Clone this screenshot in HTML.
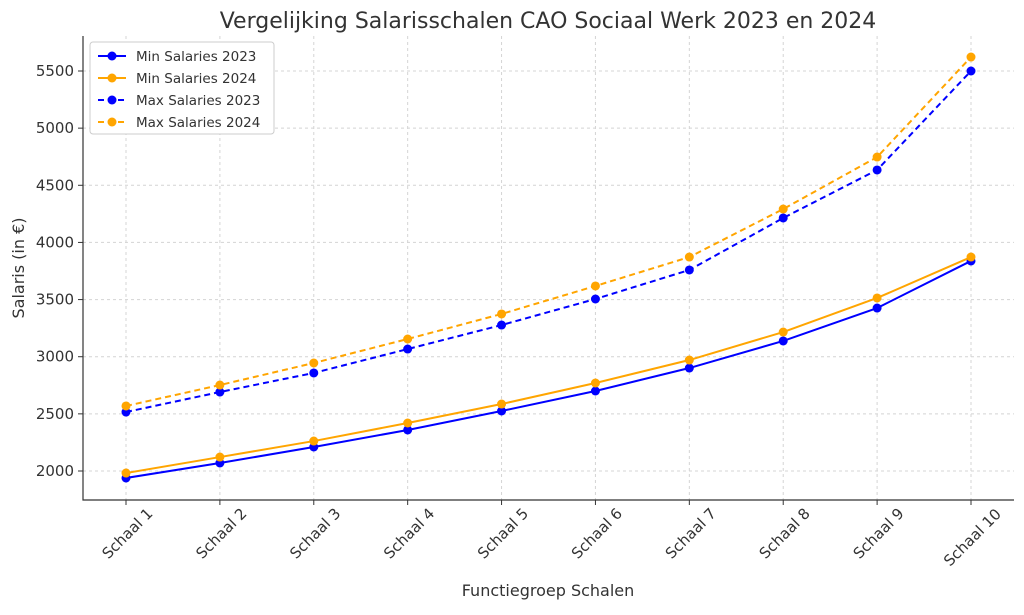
<!DOCTYPE html>
<html><head><meta charset="utf-8"><style>
body{margin:0;background:#fff;font-family:"Liberation Sans","DejaVu Sans",sans-serif}
svg text{font-family:"DejaVu Sans","Liberation Sans",sans-serif;fill:#333}
</style></head><body>
<svg id="chart" width="1024" height="610" xmlns="http://www.w3.org/2000/svg">
<text x="548" y="28" font-size="22" text-anchor="middle">Vergelijking Salarisschalen CAO Sociaal Werk 2023 en 2024</text>
<g id="grid"></g><g id="axes"></g><g id="series"></g>
<text x="548" y="596" font-size="16" text-anchor="middle">Functiegroep Schalen</text>
<text transform="translate(24,268) rotate(-90)" font-size="16" text-anchor="middle">Salaris (in €)</text>
<g id="legend"></g>
</svg>
<script>
const categories=["Schaal 1","Schaal 2","Schaal 3","Schaal 4","Schaal 5","Schaal 6","Schaal 7","Schaal 8","Schaal 9","Schaal 10"];
const min2023=[1939,2070,2210,2359,2525,2700,2901,3138,3426,3838];
const min2024=[1982,2122,2262,2420,2586,2770,2971,3216,3514,3872];
const max2023=[2516,2691,2858,3067,3277,3505,3759,4214,4634,5500];
const max2024=[2569,2752,2945,3155,3374,3619,3872,4292,4747,5622];
const yTicks=[2000,2500,3000,3500,4000,4500,5000,5500];
const NS="http://www.w3.org/2000/svg";
const L=83,R=1014,T=36,B=500;
const x=i=>126+i*(971-126)/(categories.length-1);
const y=v=>471-(v-2000)*400/3500;
function mk(tag,attrs,parent){const e=document.createElementNS(NS,tag);for(const k in attrs)e.setAttribute(k,attrs[k]);document.getElementById(parent).appendChild(e);return e;}
yTicks.forEach(v=>{
 const g=mk('line',{x1:L,x2:R,y1:y(v),y2:y(v),stroke:'#d4d4d4','stroke-dasharray':'3,3'},'grid');
 
 
 mk('line',{x1:L-5,x2:L,y1:y(v),y2:y(v),stroke:'#333'},'axes');
 const t=mk('text',{x:L-9,y:y(v)+5,'font-size':15,'text-anchor':'end'},'axes');t.textContent=v;
 
 
});
categories.forEach((c,i)=>{
 const g=mk('line',{x1:x(i),x2:x(i),y1:T,y2:B,stroke:'#d4d4d4','stroke-dasharray':'3,3'},'grid');
 
 
 mk('line',{x1:x(i),x2:x(i),y1:B,y2:B+5,stroke:'#333'},'axes');
 const len=c.length;
 const t=mk('text',{'font-size':15,'text-anchor':'middle',transform:`translate(${x(i)+5},${B+37+(len>8?4:0)}) rotate(-45)`},'axes');t.textContent=c;
 
 
});
const ax=mk('path',{d:`M${L},${T}V${B}H${R}`,fill:'none',stroke:'#333','stroke-width':1.2},'axes');


const series=[["min-2023",min2023,"#0000ff",""],["min-2024",min2024,"#ffa500",""],["max-2023",max2023,"#0000ff","6,4"],["max-2024",max2024,"#ffa500","6,4"]];
series.forEach(([n,d,col,dash])=>{
 const p=mk('polyline',{points:d.map((v,i)=>x(i)+','+y(v)).join(' '),fill:'none',stroke:col,'stroke-width':2,'stroke-dasharray':dash},'series');
 
 
 d.forEach((v,i)=>{const c=mk('circle',{cx:x(i),cy:y(v),r:4.5,fill:col},'series');
  
  });
});
const lb=mk('rect',{x:90,y:42,width:184,height:92,fill:'#fff',stroke:'#ccc',rx:3},'legend');


const names=["Min Salaries 2023","Min Salaries 2024","Max Salaries 2023","Max Salaries 2024"];
series.forEach(([n,d,col,dash],k)=>{
 const yy=56+k*22;
 mk('line',{x1:98,x2:126,y1:yy,y2:yy,stroke:col,'stroke-width':2,'stroke-dasharray':dash},'legend');
 mk('circle',{cx:112,cy:yy,r:4.5,fill:col},'legend');
 const t=mk('text',{x:136,y:yy+5,'font-size':13.5},'legend');t.textContent=names[k];
 
 
});
</script>
</body></html>
